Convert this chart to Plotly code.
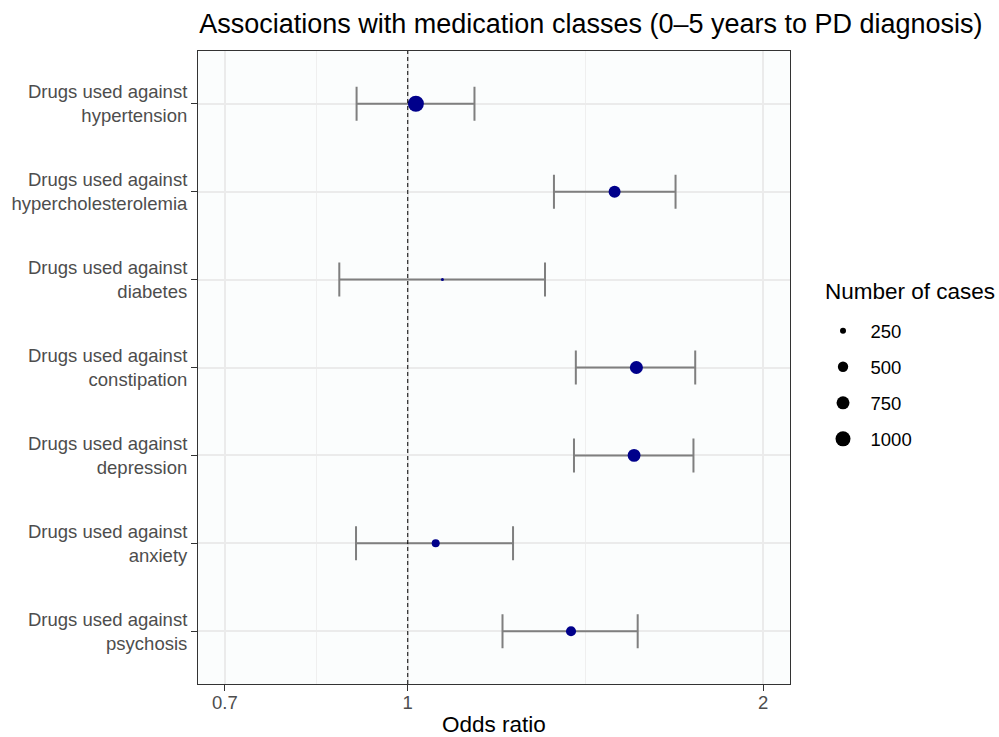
import math
import plotly.graph_objects as go

# ---- data ----
drug_classes = [
    "Drugs used against<br>hypertension",
    "Drugs used against<br>hypercholesterolemia",
    "Drugs used against<br>diabetes",
    "Drugs used against<br>constipation",
    "Drugs used against<br>depression",
    "Drugs used against<br>anxiety",
    "Drugs used against<br>psychosis",
]
odds_ratio = [1.016, 1.497, 1.070, 1.562, 1.555, 1.056, 1.375]
ci_lower = [0.905, 1.330, 0.875, 1.388, 1.383, 0.904, 1.203]
ci_upper = [1.139, 1.686, 1.307, 1.752, 1.746, 1.228, 1.566]
n_cases = [1140, 650, 200, 760, 740, 340, 480]

legend_title = "Number of cases"
legend_breaks = [250, 500, 750, 1000]
x_tickvals = [0.7, 1, 2]
x_ticktext = ["0.7", "1", "2"]
x_title = "Odds ratio"

# ---- size scale (area-like, as in ggplot scale_size) ----
nmin, nmax = min(n_cases), max(n_cases)
def size_of(n):
    t = max(0.0, (n - nmin) / (nmax - nmin))
    return 3 + 13 * math.sqrt(t)

FONT = "Liberation Sans, Arial, Helvetica, sans-serif"
fig = go.Figure()

fig.add_trace(go.Scatter(
    x=odds_ratio, y=drug_classes, mode="markers",
    marker=dict(color="#00008B", size=[size_of(n) for n in n_cases], opacity=1,
                line=dict(width=0)),
    error_x=dict(type="data", symmetric=False,
                 array=[u - o for u, o in zip(ci_upper, odds_ratio)],
                 arrayminus=[o - l for o, l in zip(odds_ratio, ci_lower)],
                 color="#7F7F7F", thickness=2, width=17),
    showlegend=False, hoverinfo="skip",
))

for b in legend_breaks:
    fig.add_trace(go.Scatter(
        x=[None], y=[None], mode="markers", name=str(b), legendgroup=str(b),
        marker=dict(color="black", size=size_of(b), opacity=1, line=dict(width=0)),
    ))

# dashed reference line at OR = 1
fig.add_shape(type="line", xref="x", yref="paper", x0=1, x1=1, y0=0, y1=1,
              line=dict(color="black", width=1, dash="4px,3px"), layer="above")

# legend title and x-axis title as text
fig.add_annotation(text=legend_title, xref="paper", yref="paper",
                   x=1.0557, y=0.6193, xanchor="left", yanchor="middle",
                   showarrow=False, font=dict(size=22.5, color="black"))
fig.add_annotation(text=x_title, xref="paper", yref="paper",
                   x=0.5, y=-0.0645, xanchor="center", yanchor="middle",
                   showarrow=False, font=dict(size=22.5, color="black"))

lo, hi = math.log10(0.7), math.log10(2)
d = hi - lo
xrange = [lo - 0.05 * d, hi + 0.05 * d]

fig.update_layout(
    width=999, height=737,
    margin=dict(l=198, r=209, t=51, b=53, autoexpand=False),
    paper_bgcolor="white", plot_bgcolor="#FBFDFD",
    font=dict(family=FONT, color="black"),
    title=dict(text="Associations with medication classes (0\u20135 years to PD diagnosis)",
               xref="container", x=0.5915, xanchor="center",
               yref="container", y=0.9674, yanchor="middle",
               font=dict(size=27, color="black")),
    xaxis=dict(type="log", range=xrange, tickvals=x_tickvals, ticktext=x_ticktext,
               automargin=False,
               showgrid=True, gridcolor="#EBEBEB", gridwidth=1.5,
               minor=dict(tickmode="array", tickvals=[math.sqrt(0.7 * 1), math.sqrt(1 * 2)],
                          showgrid=True, gridcolor="#EFEFEF", gridwidth=1, ticks=""),
               ticks="outside", ticklen=6, tickwidth=1, tickcolor="#333333",
               tickfont=dict(size=18.5, color="#4D4D4D"), ticklabelstandoff=-4,
               showline=True, linecolor="#333333", linewidth=1, mirror=True,
               zeroline=False),
    yaxis=dict(type="category", categoryorder="array", categoryarray=drug_classes[::-1],
               range=[-0.6, 6.6], automargin=False,
               showgrid=True, gridcolor="#EBEBEB", gridwidth=1.5,
               ticks="outside", ticklen=6, tickwidth=1, tickcolor="#333333",
               tickfont=dict(size=18.5, color="#4D4D4D"), ticklabelstandoff=0,
               showline=True, linecolor="#333333", linewidth=1, mirror=True,
               zeroline=False),
    legend=dict(itemsizing="trace", itemwidth=45, x=1.0431, xanchor="left",
                y=0.5874, yanchor="top",
                font=dict(size=18.5, color="black"), tracegroupgap=9,
                bgcolor="rgba(0,0,0,0)"),
)

fig.write_html("out.html", config={"displayModeBar": False},
               post_script="document.body.style.margin='0';")
